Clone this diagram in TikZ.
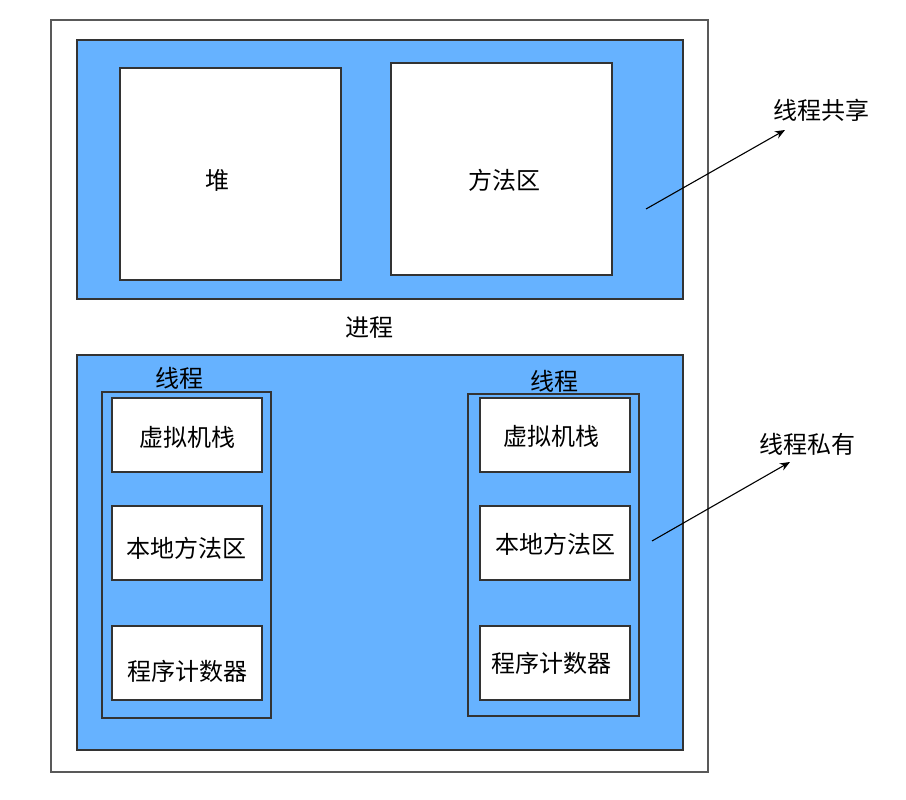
\documentclass[tikz,border=0pt]{standalone}
\usepackage{fontspec}
\setmainfont{Noto Sans CJK SC}
\usetikzlibrary{arrows.meta}
\definecolor{areablue}{HTML}{66B2FF}
\definecolor{edgegray}{HTML}{333333}
\begin{document}
\begin{tikzpicture}[x=1pt, y=-1pt, font=\fontsize{24}{28}\selectfont]
        \tikzstyle{frame}=[draw=edgegray, line width=1.2pt, rectangle, inner sep=0pt];
        \tikzstyle{area}=[frame, fill=areablue];
        \tikzstyle{part}=[frame, fill=white];
        \tikzstyle{slot}=[part, minimum width=150pt, minimum height=74pt];
        \tikzstyle{label}=[inner sep=0pt];

        \useasboundingbox (0,0) rectangle (906,800);

        \node[frame, draw=gray!70!black, minimum width=657pt, minimum height=752pt] (process) at (379.5,396) {};
        \node[area, minimum width=606pt, minimum height=259pt] (shared) at (380,169.5) {};
        \node[part, minimum width=221pt, minimum height=212pt] (heap) at (230.5,174) {};
        \node[part, minimum width=221pt, minimum height=212pt] (method) at (501.5,169) {};
        \node[label] (heaplabel) at (217,180) {堆};
        \node[label] (methodlabel) at (504,180) {方法区};
        \node[label] (proclabel) at (369,328) {进程};
        \node[area, minimum width=606pt, minimum height=395pt] (private) at (380,552.5) {};

        % thread 1
        \node[frame, minimum width=169pt, minimum height=326pt] (threadA) at (186.5,555) {};
        \node[label] (threadAlabel) at (179,378) {线程};
        \node[slot] (stackA) at (187,435) {};
        \node[slot] (nativeA) at (187,543) {};
        \node[slot] (pcA) at (187,663) {};
        \node[label] (stackAlabel) at (187.5,437.5) {虚拟机栈};
        \node[label] (nativeAlabel) at (186,548) {本地方法区};
        \node[label] (pcAlabel) at (187,671) {程序计数器};

        % thread 2
        \node[frame, minimum width=171pt, minimum height=322pt] (threadB) at (553.5,555) {};
        \node[label] (threadBlabel) at (554,381) {线程};
        \node[slot] (stackB) at (555,435) {};
        \node[slot] (nativeB) at (555,543) {};
        \node[slot] (pcB) at (555,663) {};
        \node[label] (stackBlabel) at (551,436) {虚拟机栈};
        \node[label] (nativeBlabel) at (555.5,544) {本地方法区};
        \node[label] (pcBlabel) at (551,663) {程序计数器};

        \node[label] (sharedlabel) at (821,110) {线程共享};
        \node[label] (privatelabel) at (807,444) {线程私有};

        \coordinate (sharedfrom) at (646,209);
        \coordinate (sharedto) at (785,130);
        \coordinate (privatefrom) at (652,541);
        \coordinate (privateto) at (790,462);

        \draw[-{Stealth[length=10pt, width=8pt]}, line width=1.1pt] (sharedfrom) -- (sharedto);
        \draw[-{Stealth[length=10pt, width=8pt]}, line width=1.1pt] (privatefrom) -- (privateto);
    \end{tikzpicture}
\end{document}
